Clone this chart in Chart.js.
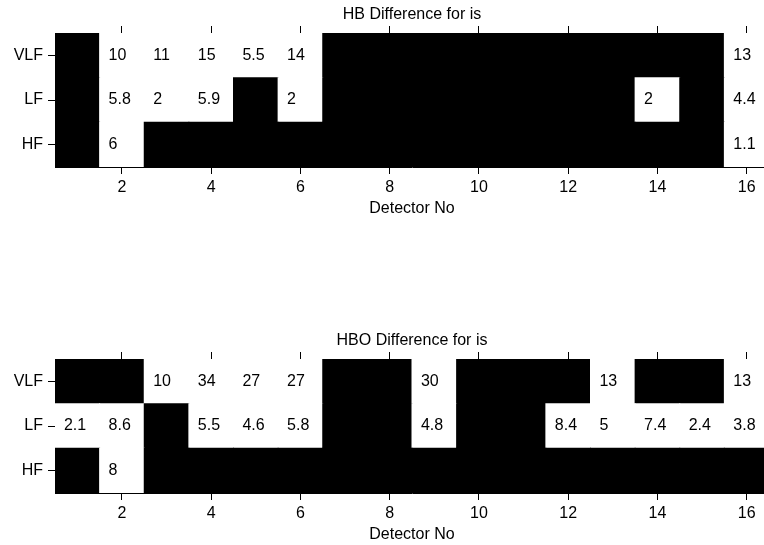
<!DOCTYPE html>
<html>
<head>
<meta charset="utf-8">
<script src="https://cdn.jsdelivr.net/npm/chart.js@4/dist/chart.umd.min.js"></script>
<style>
  html, body { margin: 0; padding: 0; background: #fff; overflow: hidden; width: 764px; height: 545px; }
  canvas { position: absolute; left: 0; }
  #hb { top: 0; }
  #hbo { top: 273px; }
</style>
</head>
<body>
<canvas id="hb" width="780" height="273"></canvas>
<canvas id="hbo" width="780" height="272"></canvas>
<script>
// Detector numbers along x, frequency bands along y (bottom to top)
const detectors = [1, 2, 3, 4, 5, 6, 7, 8, 9, 10, 11, 12, 13, 14, 15, 16];
const bands = ['HF', 'LF', 'VLF'];
const bandTicks = [0.5, 1.5, 2.5];
const detectorTicks = [2, 4, 6, 8, 10, 12, 14, 16];

// HB differences (null = not significant, drawn black)
const hbHF  = [null, 6, null, null, null, null, null, null, null, null, null, null, null, null, null, 1.1];
const hbLF  = [null, 5.8, 2, 5.9, null, 2, null, null, null, null, null, null, null, 2, null, 4.4];
const hbVLF = [null, 10, 11, 15, 5.5, 14, null, null, null, null, null, null, null, null, null, 13];

// HBO differences
const hboHF  = [null, 8, null, null, null, null, null, null, null, null, null, null, null, null, null, null];
const hboLF  = [2.1, 8.6, null, 5.5, 4.6, 5.8, null, null, 4.8, null, null, 8.4, 5, 7.4, 2.4, 3.8];
const hboVLF = [null, null, 10, 34, 27, 27, null, null, 30, null, null, null, 13, null, null, 13];

const FONT = 'Liberation Sans, Arial, Helvetica, sans-serif';
Chart.defaults.font.family = FONT;
Chart.defaults.font.size = 16;
Chart.defaults.color = '#000';

// one floating bar per cell; row r spans [r, r+1]
function rowDataset(values, row) {
  return {
    label: bands[row],
    values: values,
    data: detectors.map(d => ({ x: d, y: [row, row + 1] })),
    backgroundColor: values.map(v => v === null ? '#000000' : '#ffffff'),
    borderWidth: 0,
    inflateAmount: 0.5,
    grouped: false,
    barPercentage: 1,
    categoryPercentage: 1
  };
}

// writes each cell's value inside its white cell
const cellText = {
  id: 'cellText',
  afterDatasetsDraw(chart) {
    const { ctx, scales: { x, y } } = chart;
    ctx.save();
    ctx.font = '16px ' + FONT;
    ctx.fillStyle = '#000';
    ctx.textAlign = 'left';
    ctx.textBaseline = 'middle';
    chart.data.datasets.forEach((ds, row) => {
      ds.values.forEach((v, i) => {
        if (v === null) return;
        ctx.fillText(String(v), x.getPixelForValue(detectors[i] - 0.3), y.getPixelForValue(row + 0.5));
      });
    });
    ctx.restore();
  }
};

// panel title centred over the plot
const panelTitle = {
  id: 'panelTitle',
  afterDraw(chart, args, opts) {
    const { ctx, chartArea } = chart;
    ctx.save();
    ctx.font = '16px ' + FONT;
    ctx.fillStyle = '#000';
    ctx.textAlign = 'center';
    ctx.textBaseline = 'middle';
    ctx.fillText(opts.text, (chartArea.left + chartArea.right) / 2, chartArea.top - 18);
    ctx.restore();
  }
};

function axisStyle() {
  return {
    offset: false,
    grid: { offset: false, drawOnChartArea: false, drawTicks: true, tickLength: 7, color: '#000', lineWidth: 1 },
    border: { display: true, color: '#000', width: 1 }
  };
}

function makePanel(id, title, hf, lf, vlf, padTop, padBottom) {
  new Chart(document.getElementById(id), {
    type: 'bar',
    data: { datasets: [rowDataset(hf, 0), rowDataset(lf, 1), rowDataset(vlf, 2)] },
    plugins: [cellText, panelTitle],
    options: {
      responsive: false,
      animation: false,
      events: [],
      devicePixelRatio: 1,
      layout: { padding: { top: padTop, bottom: padBottom, left: 0, right: 11 } },
      plugins: { legend: { display: false }, tooltip: { enabled: false }, panelTitle: { text: title } },
      scales: {
        x: Object.assign(axisStyle(), {
          type: 'linear', position: 'bottom', min: 0.5, max: 16.5, z: 1,
          afterBuildTicks: s => { s.ticks = detectorTicks.map(v => ({ value: v })); },
          afterFit: s => { s.height = 51; },
          ticks: { padding: 4, maxRotation: 0, autoSkip: false, callback: v => String(v) },
          title: { display: true, text: 'Detector No', padding: 0, font: { size: 16 } }
        }),
        x2: Object.assign(axisStyle(), {
          type: 'linear', position: 'top', min: 0.5, max: 16.5, z: 1,
          afterBuildTicks: s => { s.ticks = detectorTicks.map(v => ({ value: v })); },
          afterFit: s => { s.height = 7; },
          ticks: { display: false }
        }),
        y: Object.assign(axisStyle(), {
          type: 'linear', position: 'left', min: 0, max: 3, z: 1,
          afterBuildTicks: s => { s.ticks = bandTicks.map(v => ({ value: v })); },
          afterFit: s => { s.width = 55; },
          ticks: { padding: 5, autoSkip: false, callback: v => bands[bandTicks.indexOf(v)] }
        })
      }
    }
  });
}

makePanel('hb', 'HB Difference for is', hbHF, hbLF, hbVLF, 26, 55);
makePanel('hbo', 'HBO Difference for is', hboHF, hboLF, hboVLF, 79, 1);
</script>
</body>
</html>
